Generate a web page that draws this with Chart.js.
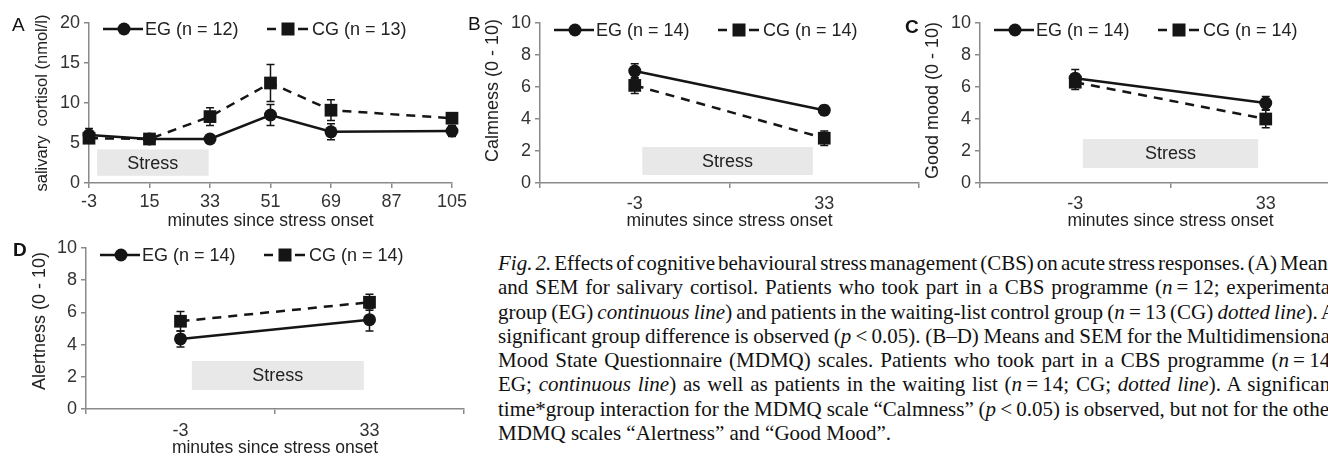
<!DOCTYPE html>
<html><head><meta charset="utf-8">
<script src="https://cdn.jsdelivr.net/npm/chart.js@4.4.1/dist/chart.umd.min.js"></script>
<style>
html,body{margin:0;padding:0;background:#fff;overflow:hidden;width:1328px;height:456px;position:relative;}
canvas{position:absolute;display:block;}
.lbl{position:absolute;font-family:"Liberation Sans",Arial,sans-serif;font-size:19px;line-height:19px;color:#111;}
#cap{position:absolute;left:498px;top:251px;font-family:"Liberation Serif","Times New Roman",serif;font-size:21px;line-height:24.3px;color:#111;}
#cap div{white-space:nowrap;height:24.3px;}
#cap span.ln{display:inline-block;}
</style>
</head><body>
<canvas id="cA" width="470" height="232" style="left:0;top:0;width:470px;height:232px"></canvas>
<canvas id="cB" width="490" height="232" style="left:440px;top:0;width:490px;height:232px"></canvas>
<canvas id="cC" width="500" height="232" style="left:870px;top:0;width:500px;height:232px"></canvas>
<canvas id="cD" width="480" height="244" style="left:0;top:215px;width:480px;height:244px"></canvas>
<div class="lbl" style="left:12px;top:15px">A</div>
<div class="lbl" style="left:468px;top:14px">B</div>
<div class="lbl" style="left:905px;top:17px;font-weight:bold">C</div>
<div class="lbl" style="left:13px;top:240px;font-weight:bold">D</div>
<div id="cap">
<div><span class="ln"><i>Fig. 2.</i> Effects of cognitive behavioural stress management (CBS) on acute stress responses. (A) Means</span></div>
<div><span class="ln">and SEM for salivary cortisol. Patients who took part in a CBS programme (<i>n</i>&#8201;=&#8201;12; experimental</span></div>
<div><span class="ln">group (EG) <i>continuous line</i>) and patients in the waiting-list control group (<i>n</i>&#8201;=&#8201;13 (CG) <i>dotted line</i>). A</span></div>
<div><span class="ln">significant group difference is observed (<i>p</i>&#8201;&lt;&#8201;0.05). (B–D) Means and SEM for the Multidimensional</span></div>
<div><span class="ln">Mood State Questionnaire (MDMQ) scales. Patients who took part in a CBS programme (<i>n</i>&#8201;=&#8201;14;</span></div>
<div><span class="ln">EG; <i>continuous line</i>) as well as patients in the waiting list (<i>n</i>&#8201;=&#8201;14; CG; <i>dotted line</i>). A significant</span></div>
<div><span class="ln">time*group interaction for the MDMQ scale “Calmness” (<i>p</i>&#8201;&lt;&#8201;0.05) is observed, but not for the other</span></div>
<div><span>MDMQ scales “Alertness” and “Good Mood”.</span></div>
</div>
<script>
// ---- DATA ----
const timesA = [-3, 15, 33, 51, 69, 105];
const xTicksA = [-3, 15, 33, 51, 69, 87, 105];
const cortisolEG = [6.0, 5.5, 5.5, 8.5, 6.4, 6.5];
const cortisolEGsem = [0.8, 0.3, 0.3, 1.3, 1.0, 0.7];
const cortisolCG = [5.6, 5.5, 8.3, 12.5, 9.1, 8.1];
const cortisolCGsem = [0.4, 0.4, 1.1, 2.3, 1.3, 0.6];

const timesMood = ['-3', '33'];
const calmEG = [7.0, 4.55];
const calmEGsem = [0.45, 0.3];
const calmCG = [6.1, 2.8];
const calmCGsem = [0.5, 0.45];

const goodEG = [6.55, 5.0];
const goodEGsem = [0.55, 0.4];
const goodCG = [6.3, 4.0];
const goodCGsem = [0.45, 0.55];

const alertEG = [4.35, 5.55];
const alertEGsem = [0.5, 0.7];
const alertCG = [5.45, 6.63];
const alertCGsem = [0.6, 0.5];

// ---- caption justification ----
(function () {
  const W = 838;
  document.querySelectorAll('#cap span.ln').forEach(s => {
    const w = s.getBoundingClientRect().width;
    const n = (s.textContent.match(/ /g) || []).length;
    if (n) s.style.wordSpacing = ((W - w) / n) + 'px';
  });
})();

// ---- STYLE ----
const INK = '#151515';
const AXIS = '#8a8a8a';
const TXT = '#333';
const SANS = '"Liberation Sans", Arial, sans-serif';

const errorBarPlugin = {
  id: 'errbars',
  beforeDatasetsDraw(chart) {
    const ctx = chart.ctx, ys = chart.scales.y;
    ctx.save();
    ctx.strokeStyle = INK; ctx.lineWidth = 1.5; ctx.setLineDash([]);
    chart.data.datasets.forEach((ds, di) => {
      const meta = chart.getDatasetMeta(di);
      meta.data.forEach((pt, i) => {
        const v = typeof ds.data[i] === 'object' ? ds.data[i].y : ds.data[i];
        const s = ds.sem[i];
        const yt = ys.getPixelForValue(v + s), yb = ys.getPixelForValue(v - s);
        ctx.beginPath();
        ctx.moveTo(pt.x, yt); ctx.lineTo(pt.x, yb);
        ctx.moveTo(pt.x - 4, yt); ctx.lineTo(pt.x + 4, yt);
        ctx.moveTo(pt.x - 4, yb); ctx.lineTo(pt.x + 4, yb);
        ctx.stroke();
      });
    });
    ctx.restore();
  }
};

const stressPlugin = {
  id: 'stress',
  beforeDatasetsDraw(chart, args, o) {
    const ctx = chart.ctx, xs = chart.scales.x, ys = chart.scales.y;
    const x0 = xs.getPixelForValue(o.x0), x1 = xs.getPixelForValue(o.x1);
    const y0 = ys.getPixelForValue(o.y1), y1 = ys.getPixelForValue(o.y0);
    ctx.save();
    ctx.fillStyle = '#e8e8e8';
    ctx.fillRect(x0, y0, x1 - x0, y1 - y0);
    ctx.fillStyle = '#222';
    ctx.font = '18px ' + SANS;
    ctx.textAlign = 'center'; ctx.textBaseline = 'middle';
    ctx.fillText('Stress', (x0 + x1) / 2, (y0 + y1) / 2 + 1);
    ctx.restore();
  }
};

const legendPlugin = {
  id: 'mylegend',
  afterDraw(chart, args, o) {
    const ctx = chart.ctx, L = chart.chartArea.left, y = chart.chartArea.top + o.dy;
    const ds = chart.data.datasets;
    ctx.save();
    ctx.strokeStyle = INK; ctx.fillStyle = INK; ctx.lineWidth = 2.5;
    ctx.beginPath(); ctx.moveTo(L + 14, y); ctx.lineTo(L + 54, y); ctx.stroke();
    ctx.beginPath(); ctx.arc(L + 35, y, 6.5, 0, Math.PI * 2); ctx.fill();
    ctx.beginPath(); ctx.moveTo(L + 178, y); ctx.lineTo(L + 187, y);
    ctx.moveTo(L + 209, y); ctx.lineTo(L + 219, y); ctx.stroke();
    ctx.fillRect(L + 192.5, y - 6.5, 13, 13);
    ctx.fillStyle = '#222';
    ctx.font = '18px ' + SANS;
    ctx.textAlign = 'left'; ctx.textBaseline = 'middle';
    ctx.fillText(ds[0].label, L + 56, y + 1);
    ctx.fillText(ds[1].label, L + 223, y + 1);
    ctx.restore();
  }
};

function makePanel(id, p) {
  const lin = p.xType === 'linear';
  const mk = (vals) => lin ? p.x.map((x, i) => ({x: x, y: vals[i]})) : vals;
  const xScale = {
    type: p.xType,
    offset: !lin,
    grid: {display: true, drawOnChartArea: false, drawTicks: true, tickLength: 5, color: AXIS, lineWidth: 1.5, offset: !lin},
    border: {display: true, color: AXIS, width: 1.5},
    ticks: {color: TXT, font: {family: SANS, size: 18}, padding: p.xPad, maxRotation: 0, autoSkip: false},
    title: {display: true, text: 'minutes since stress onset', color: '#222', font: {family: SANS, size: 17.5}, padding: 0},
    afterFit: s => { s.height = p.xH; }
  };
  if (lin) {
    xScale.min = p.xTicks[0]; xScale.max = p.xTicks[p.xTicks.length - 1];
    xScale.afterBuildTicks = s => { s.ticks = p.xTicks.map(v => ({value: v})); };
  }
  return new Chart(document.getElementById(id), {
    type: 'line',
    data: {
      labels: lin ? undefined : p.x,
      datasets: [
        {label: p.egLabel, data: mk(p.eg), sem: p.egSem, borderColor: INK, backgroundColor: INK, borderWidth: 2.5,
         pointStyle: 'circle', pointRadius: 6.5, pointBorderWidth: 0, tension: 0, clip: false},
        {label: p.cgLabel, data: mk(p.cg), sem: p.cgSem, borderColor: INK, backgroundColor: INK, borderWidth: 2.5,
         borderDash: [9, 7], pointStyle: 'rect', pointRadius: 9, pointBorderWidth: 0, tension: 0, clip: false}
      ]
    },
    options: {
      responsive: false, animation: false, devicePixelRatio: 1,
      layout: {padding: {left: 0, top: p.padTop, right: p.padRight, bottom: 0}},
      plugins: {legend: {display: false}, tooltip: {enabled: false},
        stress: p.stress, mylegend: {dy: p.legDy}},
      scales: {
        x: xScale,
        y: {
          min: 0, max: p.yMax,
          grid: {display: true, drawOnChartArea: false, drawTicks: true, tickLength: 5, color: AXIS, lineWidth: 1.5},
          border: {display: true, color: AXIS, width: 1.5},
          ticks: {stepSize: p.yStep, color: TXT, font: {family: SANS, size: 18}, padding: 4},
          title: {display: true, text: p.yTitle, color: '#222', font: {family: SANS, size: p.yTitleSize}, padding: {top: p.yTitlePad, bottom: 0}},
          afterFit: s => { s.width = p.yW; }
        }
      }
    },
    plugins: [stressPlugin, errorBarPlugin, legendPlugin]
  });
}

makePanel('cA', {xType: 'linear', x: timesA, xTicks: xTicksA, eg: cortisolEG, egSem: cortisolEGsem, cg: cortisolCG, cgSem: cortisolCGsem,
  egLabel: 'EG (n = 12)', cgLabel: 'CG (n = 13)', yMax: 20, yStep: 5, yTitle: 'salivary  cortisol (nmol/l)', yTitleSize: 16.5, yTitlePad: 33,
  yW: 89, xH: 49, padTop: 23, padRight: 15, xPad: 3, legDy: 6, stress: {x0: -0.6, x1: 32.6, y0: 0.9, y1: 4.2}});

makePanel('cB', {xType: 'category', x: timesMood, eg: calmEG, egSem: calmEGsem, cg: calmCG, cgSem: calmCGsem,
  egLabel: 'EG (n = 14)', cgLabel: 'CG (n = 14)', yMax: 10, yStep: 2, yTitle: '     Calmness (0 - 10)', yTitleSize: 18, yTitlePad: 42.2,
  yW: 100, xH: 49, padTop: 23, padRight: 11, xPad: 5, legDy: 7, stress: {x0: 0.04, x1: 0.94, y0: 0.5, y1: 2.25}});

makePanel('cC', {xType: 'category', x: timesMood, eg: goodEG, egSem: goodEGsem, cg: goodCG, cgSem: goodCGsem,
  egLabel: 'EG (n = 14)', cgLabel: 'CG (n = 14)', yMax: 10, yStep: 2, yTitle: ' Good mood (0 - 10)', yTitleSize: 18, yTitlePad: 52.2,
  yW: 110, xH: 49, padTop: 23, padRight: 8, xPad: 5, legDy: 7, stress: {x0: 0.04, x1: 0.96, y0: 0.94, y1: 2.75}});

makePanel('cD', {xType: 'category', x: timesMood, eg: alertEG, egSem: alertEGsem, cg: alertCG, cgSem: alertCGsem,
  egLabel: 'EG (n = 14)', cgLabel: 'CG (n = 14)', yMax: 10, yStep: 2, yTitle: '   Alertness (0 - 10)', yTitleSize: 18, yTitlePad: 29.2,
  yW: 86, xH: 50, padTop: 33, padRight: 16, xPad: 6, legDy: 7, stress: {x0: 0.06, x1: 0.97, y0: 1.18, y1: 2.98}});
</script>
</body></html>
